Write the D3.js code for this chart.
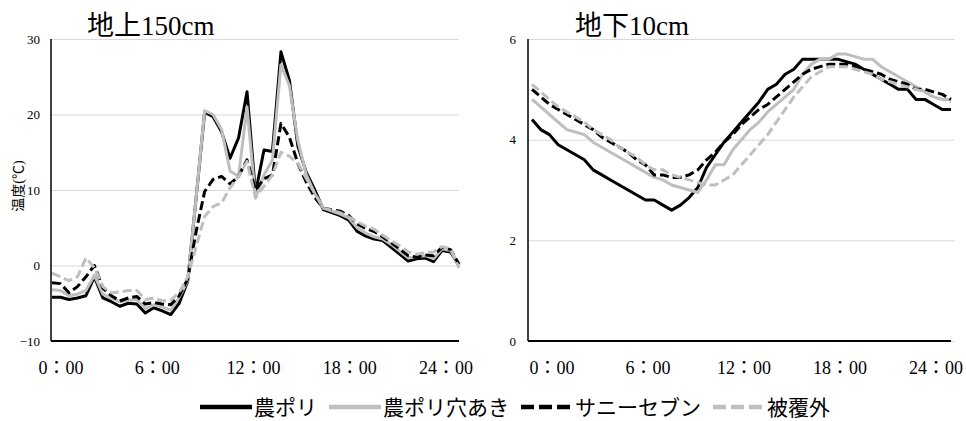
<!DOCTYPE html>
<html>
<head>
<meta charset="utf-8">
<script src="https://cdn.jsdelivr.net/npm/d3@7"></script>
<style>
  html, body { margin: 0; padding: 0; background: #fff; }
  svg { display: block; }
  text { font-family: "Liberation Serif", "Noto Sans CJK JP", serif; fill: #000; }
</style>
</head>
<body>
<svg id="chart" width="966" height="421"></svg>
<script>
// ---------- data ----------
const timeLabels = ["0：00", "6：00", "12：00", "18：00", "24：00"];
const seriesNames = ["農ポリ", "農ポリ穴あき", "サニーセブン", "被覆外"];
// half-hourly readings 0:00 .. 24:00 (49 points)
const hours = d3.range(0, 24.5, 0.5);

// 地上150cm
const air_nopori = [-4.2,-4.2,-4.5,-4.3,-4.0,-1.5,-4.3,-4.8,-5.4,-5.0,-5.1,-6.3,-5.6,-6.0,-6.5,-5.0,-2.1,9.0,20.3,19.7,17.7,14.2,16.9,23.0,9.6,15.3,15.1,28.3,24.5,15.8,12.3,10.0,7.4,7.0,6.6,6.0,4.5,3.9,3.5,3.3,2.4,1.5,0.6,0.9,1.0,0.5,2.0,1.8,0.0];
const air_ana    = [-3.2,-3.3,-4.0,-3.8,-3.3,-1.3,-3.8,-4.3,-4.8,-4.6,-4.5,-5.7,-5.2,-5.5,-5.9,-4.2,-2.0,9.0,20.5,20.0,18.0,12.5,11.8,21.0,8.9,12.0,14.0,26.6,23.8,16.5,12.0,9.5,7.6,7.2,6.8,6.3,5.0,4.3,3.8,3.5,2.8,1.9,1.0,1.2,1.3,0.9,2.2,2.0,0.0];
const air_sunny  = [-2.3,-2.4,-3.6,-2.8,-1.5,0.0,-3.0,-4.0,-4.7,-4.3,-4.1,-5.1,-4.9,-5.1,-5.2,-4.0,-1.8,4.5,9.8,11.4,11.8,10.8,11.8,14.0,10.0,11.5,12.0,18.8,17.0,13.5,11.0,9.0,7.6,7.4,7.2,6.6,5.5,4.9,4.5,3.8,3.0,2.2,1.3,1.1,1.4,1.3,2.4,2.1,0.2];
const air_out    = [-1.0,-1.5,-2.0,-1.5,1.0,-0.3,-2.8,-3.6,-3.5,-3.3,-3.3,-4.5,-4.3,-4.7,-4.6,-3.6,-1.5,2.5,6.5,7.8,8.3,10.3,11.8,13.8,9.0,10.5,12.0,15.0,14.5,13.5,11.5,9.5,7.6,7.3,7.0,6.4,5.8,5.2,4.8,4.0,3.3,2.6,1.8,1.5,1.7,1.8,2.5,2.2,-0.3];

// 地下10cm
const soil_nopori = [4.4,4.2,4.1,3.9,3.8,3.7,3.6,3.4,3.3,3.2,3.1,3.0,2.9,2.8,2.8,2.7,2.6,2.7,2.85,3.05,3.45,3.7,3.95,4.15,4.35,4.55,4.75,5.0,5.1,5.3,5.4,5.6,5.6,5.6,5.6,5.6,5.55,5.5,5.4,5.3,5.2,5.1,5.0,5.0,4.8,4.8,4.7,4.6,4.6];
const soil_ana    = [4.8,4.65,4.5,4.35,4.2,4.15,4.1,3.95,3.85,3.75,3.65,3.55,3.45,3.35,3.25,3.2,3.1,3.05,3.0,2.95,3.2,3.5,3.5,3.8,4.0,4.2,4.35,4.55,4.7,4.85,5.0,5.3,5.5,5.6,5.6,5.7,5.7,5.65,5.6,5.6,5.45,5.35,5.25,5.15,5.05,4.95,4.85,4.8,4.8];
const soil_sunny  = [5.0,4.85,4.7,4.6,4.5,4.4,4.3,4.2,4.05,3.95,3.85,3.75,3.6,3.5,3.3,3.3,3.25,3.25,3.3,3.4,3.6,3.75,3.95,4.1,4.3,4.45,4.6,4.7,4.85,5.0,5.15,5.3,5.4,5.45,5.5,5.5,5.5,5.45,5.4,5.35,5.3,5.2,5.15,5.1,5.0,5.0,4.95,4.9,4.8];
const soil_out    = [5.1,4.95,4.8,4.65,4.55,4.45,4.35,4.2,4.1,4.0,3.85,3.75,3.65,3.5,3.4,3.4,3.3,3.25,3.2,3.15,3.1,3.1,3.2,3.3,3.5,3.7,3.9,4.1,4.35,4.6,4.85,5.05,5.25,5.35,5.45,5.45,5.45,5.4,5.35,5.3,5.2,5.15,5.1,5.05,5.0,4.95,4.85,4.8,4.75];

const airTicks = [-10, 0, 10, 20, 30];
const soilTicks = [0, 2, 4, 6];

// ---------- styles ----------
const styles = [
  { color: "#000000", dash: null },
  { color: "#bfbfbf", dash: null },
  { color: "#000000", dash: "9,4" },
  { color: "#bfbfbf", dash: "9,4" }
];

const svg = d3.select("#chart");

function drawPanel(cfg) {
  const g = svg.append("g");
  const x = d3.scaleLinear().domain([0, 24]).range([cfg.dataLeft, cfg.dataRight]);
  const y = d3.scaleLinear().domain(cfg.domain).range([cfg.bottom, cfg.top]);

  // gridlines
  g.append("g")
    .attr("transform", `translate(${cfg.left},0)`)
    .call(d3.axisLeft(y).tickValues(cfg.ticks).tickSize(-(cfg.right - cfg.left)).tickFormat(""))
    .call(s => s.select(".domain").remove())
    .call(s => s.selectAll("line").attr("stroke", "#d9d9d9").attr("stroke-width", 1));

  // y tick labels
  g.append("g")
    .attr("transform", `translate(${cfg.left},0)`)
    .call(d3.axisLeft(y).tickValues(cfg.ticks).tickSize(0).tickPadding(cfg.tickPad).tickFormat(d3.format("d")))
    .call(s => s.select(".domain").remove())
    .call(s => s.selectAll("text")
      .style("font-family", '"Liberation Serif", serif')
      .style("font-size", "13px").attr("fill", "#000"));

  // series
  const line = d3.line().x((d, i) => x(hours[i])).y(d => y(d));
  cfg.series.forEach((vals, k) => {
    g.append("path")
      .datum(vals)
      .attr("d", line)
      .attr("fill", "none")
      .attr("stroke", styles[k].color)
      .attr("stroke-width", 3)
      .attr("stroke-linejoin", "round")
      .attr("stroke-dasharray", styles[k].dash);
  });

  // axis lines
  g.append("line")
    .attr("x1", cfg.left).attr("x2", cfg.left)
    .attr("y1", cfg.top).attr("y2", cfg.bottom)
    .attr("stroke", "#000").attr("stroke-width", 1.5);
  g.append("line")
    .attr("x1", cfg.left).attr("x2", cfg.axisRight)
    .attr("y1", cfg.bottom).attr("y2", cfg.bottom)
    .attr("stroke", "#000").attr("stroke-width", 2);

  // title
  g.append("text")
    .attr("x", cfg.titleX).attr("y", 35)
    .style("font-size", "27px")
    .text(cfg.title);

  // time labels
  const lx = d3.scalePoint().domain(timeLabels).range(cfg.labelRange);
  g.append("g").selectAll("text").data(timeLabels).join("text")
    .attr("x", d => lx(d)).attr("y", 374)
    .attr("text-anchor", "middle")
    .style("font-size", "18px")
    .text(d => d);
}

drawPanel({
  left: 51, right: 459, axisRight: 459, top: 39, bottom: 341,
  dataLeft: 52, dataRight: 459,
  domain: [-10, 30], ticks: airTicks, tickPad: 11,
  series: [air_nopori, air_ana, air_sunny, air_out],
  title: "地上150cm", titleX: 87,
  labelRange: [61, 446]
});

drawPanel({
  left: 528, right: 955, axisRight: 951, top: 39, bottom: 341,
  dataLeft: 532, dataRight: 951,
  domain: [0, 6], ticks: soilTicks, tickPad: 12,
  series: [soil_nopori, soil_ana, soil_sunny, soil_out],
  title: "地下10cm", titleX: 575,
  labelRange: [552, 936]
});

// y-axis title (left panel)
svg.append("text")
  .attr("transform", "translate(23,186) rotate(-90)")
  .attr("text-anchor", "middle")
  .style("font-size", "14px")
  .text("温度(℃)");

// legend
const legend = svg.append("g").attr("transform", "translate(0,407)");
let lxPos = 200;
seriesNames.forEach((name, k) => {
  legend.append("line")
    .attr("x1", lxPos).attr("x2", lxPos + 52)
    .attr("y1", 0).attr("y2", 0)
    .attr("stroke", styles[k].color)
    .attr("stroke-width", 4.5)
    .attr("stroke-dasharray", styles[k].dash ? "13,5" : null);
  const t = legend.append("text")
    .attr("x", lxPos + 54).attr("y", 0)
    .attr("dy", "0.36em")
    .style("font-size", "21px")
    .text(name);
  lxPos += 54 + t.node().getComputedTextLength() + 12;
});
</script>
</body>
</html>
